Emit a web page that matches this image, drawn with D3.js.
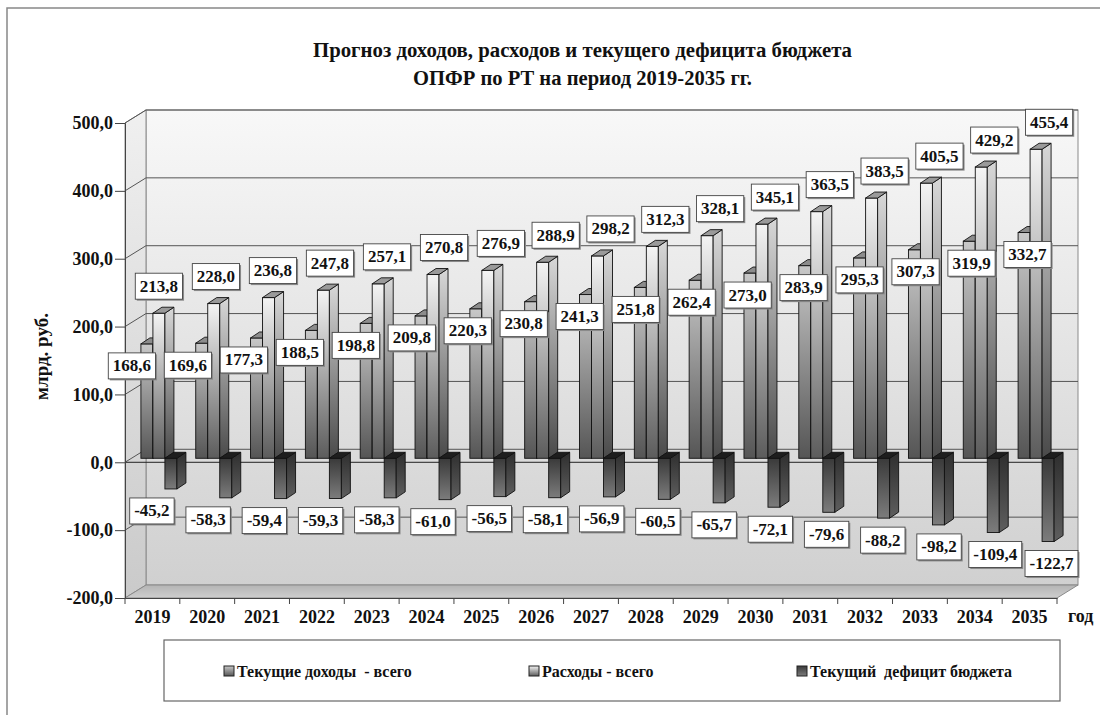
<!DOCTYPE html>
<html>
<head>
<meta charset="utf-8">
<script src="https://cdn.jsdelivr.net/npm/d3@7"></script>
<style>
  body { margin: 0; background: #fff; }
  svg text { font-family: "Liberation Serif", "Times New Roman", "DejaVu Serif", serif !important; font-weight: bold; fill: #111; }
</style>
</head>
<body>
<div id="chart"></div>
<script>
// **** THE DATA ****
const years = ["2019","2020","2021","2022","2023","2024","2025","2026","2027","2028","2029","2030","2031","2032","2033","2034","2035"]
const income = [168.6,169.6,177.3,188.5,198.8,209.8,220.3,230.8,241.3,251.8,262.4,273.0,283.9,295.3,307.3,319.9,332.7]
const expenses = [213.8,228.0,236.8,247.8,257.1,270.8,276.9,288.9,298.2,312.3,328.1,345.1,363.5,383.5,405.5,429.2,455.4]
const deficit = [-45.2,-58.3,-59.4,-59.3,-58.3,-61.0,-56.5,-58.1,-56.9,-60.5,-65.7,-72.1,-79.6,-88.2,-98.2,-109.4,-122.7]
const yTicks = [-200,-100,0,100,200,300,400,500]
const seriesNames = ["Текущие доходы  - всего", "Расходы - всего", "Текущий  дефицит бюджета"]
const titleLines = ["Прогноз доходов, расходов и текущего дефицита бюджета", "ОПФР по РТ на период 2019-2035 гг."]

// **** THE SETUP ****
const width = 1100, height = 715
const serif = "'Liberation Serif', 'Times New Roman', 'DejaVu Serif', serif"
const wall = {dx: 21, dy: -13}      // back wall offset from front plane
const plane = {dx: 6.5, dy: -4}     // where the bars stand
const depth = {dx: 9, dy: -6}       // thickness of a bar

const ru = d3.formatLocale({decimal: ",", thousands: " ", grouping: [3], currency: ["", ""], minus: "-"})
const fmt = ru.format(".1f")

const x = d3.scaleBand().domain(years).range([125, 1057])
const y = d3.scaleLinear().domain([-200, 500]).range([598, 123])
const barW = 12
const inner = d3.scaleBand().domain([0, 1, 2]).range([0, barW * 3])

const svg = d3.select("#chart").append("svg")
    .attr("width", width)
    .attr("height", height)
    .attr("font-family", serif)

const defs = svg.append("defs")
function grad(id, stops) {
  const g = defs.append("linearGradient").attr("id", id)
      .attr("x1", 0).attr("y1", 0).attr("x2", 0).attr("y2", 1)
  stops.forEach((c, i) => g.append("stop").attr("offset", i / (stops.length - 1)).attr("stop-color", c))
}
grad("wallG", ["#f8f8f8", "#d0d0d0"])
grad("sideG", ["#f0f0f0", "#cacaca"])
grad("floorG", ["#b4b4b4", "#cecece"])
grad("incF", ["#c8c8c8", "#555555"])
grad("incS", ["#aaaaaa", "#444444"])
grad("expF", ["#f4f4f4", "#5c5c5c"])
grad("expS", ["#d8d8d8", "#4a4a4a"])
grad("defF", ["#3a3a3a", "#7c7c7c"])
grad("defS", ["#2e2e2e", "#5e5e5e"])

// outer frame
svg.append("rect")
    .attr("x", 7).attr("y", 8).attr("width", 1200).attr("height", 800)
    .attr("fill", "none").attr("stroke", "#888").attr("stroke-width", 1.5)

// **** WALLS ****
const x0 = x.range()[0], x1 = x.range()[1]
const yTop = y(500), yBot = y(-200)

svg.append("rect")
    .attr("x", x0 + wall.dx).attr("y", yTop + wall.dy)
    .attr("width", x1 - x0).attr("height", yBot - yTop)
    .attr("fill", "url(#wallG)").attr("stroke", "#8a8a8a")

svg.append("path")
    .attr("d", `M${x0},${yTop} L${x0 + wall.dx},${yTop + wall.dy} L${x0 + wall.dx},${yBot + wall.dy} L${x0},${yBot} Z`)
    .attr("fill", "url(#sideG)").attr("stroke", "#8a8a8a")

svg.append("path")
    .attr("d", `M${x0},${yBot} L${x0 + wall.dx},${yBot + wall.dy} L${x1 + wall.dx},${yBot + wall.dy} L${x1},${yBot} Z`)
    .attr("fill", "url(#floorG)").attr("stroke", "#8a8a8a")

// gridlines on back and side walls
const grid = svg.append("g").attr("stroke", "#555").attr("fill", "none")
yTicks.filter(t => t > -200).forEach(t => {
  grid.append("path")
      .attr("d", `M${x0},${y(t)} L${x0 + wall.dx},${y(t) + wall.dy} L${x1 + wall.dx},${y(t) + wall.dy}`)
})

// zero line in the front plane
svg.append("line")
    .attr("x1", x0).attr("x2", x1)
    .attr("y1", y(0)).attr("y2", y(0))
    .attr("stroke", "#222")

// --> Y-AXIS
const yAxis = svg.append("g")
    .attr("transform", `translate(${x0},0)`)
    .call(d3.axisLeft(y).tickValues(yTicks).tickFormat(fmt).tickSize(10).tickPadding(2))
yAxis.attr("font-family", serif)
yAxis.select(".domain").attr("stroke", "#444")
yAxis.selectAll(".tick line").attr("stroke", "#444")
yAxis.selectAll("text").attr("font-size", 18).attr("fill", "#111").attr("font-weight", "bold")

// --> X-AXIS
const xAxis = svg.append("g")
    .attr("transform", `translate(0,${yBot})`)
    .call(d3.axisBottom(x).tickSize(0).tickPadding(12))
xAxis.attr("font-family", serif)
xAxis.select(".domain").attr("stroke", "#444")
xAxis.selectAll("text").attr("font-size", 18).attr("fill", "#111").attr("font-weight", "bold")
xAxis.selectAll(".sep")
    .data(years.map(d => x(d)).concat([x1]))
  .enter().append("line")
    .attr("x1", d => d).attr("x2", d => d)
    .attr("y1", 0).attr("y2", 6)
    .attr("stroke", "#444")

svg.append("text")
    .attr("x", 1068).attr("y", yBot + 24)
    .attr("font-size", 18)
    .text("год")

svg.append("text")
    .attr("transform", `translate(48,${(yTop + yBot) / 2 - 4}) rotate(-90)`)
    .attr("text-anchor", "middle")
    .attr("font-size", 19)
    .text("млрд. руб.")

// --> BARS
const y0 = y(0) + plane.dy
function bar(g, left, v, front, side, topFill) {
  const top = y(v) + plane.dy
  const a = Math.min(top, y0), b = Math.max(top, y0)
  g.append("rect")
      .attr("x", left).attr("y", a).attr("width", barW).attr("height", b - a)
      .attr("fill", front).attr("stroke", "#111").attr("stroke-width", 0.9)
  g.append("path")
      .attr("d", `M${left + barW},${a} L${left + barW + depth.dx},${a + depth.dy} L${left + barW + depth.dx},${b + depth.dy} L${left + barW},${b} Z`)
      .attr("fill", side).attr("stroke", "#111").attr("stroke-width", 0.9)
  // visible cap is always at the upper edge
  g.append("path")
      .attr("d", `M${left},${a} L${left + depth.dx},${a + depth.dy} L${left + barW + depth.dx},${a + depth.dy} L${left + barW},${a} Z`)
      .attr("fill", topFill).attr("stroke", "#111").attr("stroke-width", 0.9)
}

const bars = svg.append("g")
const series = [
  {values: income, front: "url(#incF)", side: "url(#incS)", top: "#8c8c8c"},
  {values: expenses, front: "url(#expF)", side: "url(#expS)", top: "#9a9a9a"},
  {values: deficit, front: "url(#defF)", side: "url(#defS)", top: "#1e1e1e"}
]
years.forEach((yr, i) => {
  const start = x(yr) + plane.dx + (x.bandwidth() - barW * 3) / 2
  series.forEach((s, k) => {
    bar(bars, start + inner(k), s.values[i], s.front, s.side, s.top)
  })
})

// --> DATA LABELS
const labels = svg.append("g")
function label(cx, cy, txt) {
  const g = labels.append("g")
  const t = g.append("text")
      .attr("x", cx).attr("y", cy)
      .attr("text-anchor", "middle").attr("dominant-baseline", "central")
      .attr("font-size", 17)
      .text(txt)
  const w = t.node().getComputedTextLength() + 9, h = 26
  g.insert("rect", "text")
      .attr("x", cx - w / 2 + 1.5).attr("y", cy - h / 2 + 1.5).attr("width", w).attr("height", h)
      .attr("fill", "#8a8a8a")
  g.insert("rect", "text")
      .attr("x", cx - w / 2).attr("y", cy - h / 2).attr("width", w).attr("height", h)
      .attr("fill", "#fff").attr("stroke", "#444").attr("stroke-width", 0.9)
}
years.forEach((yr, i) => {
  const c = x(yr) + x.bandwidth() / 2 + plane.dx
  label(c - 27 + i * 1.15, y(income[i]) + plane.dy + 22, fmt(income[i]))
  label(c + Math.min(i * 2.2, 13), y(expenses[i]) + plane.dy - 27, fmt(expenses[i]))
  label(c - 7 + i * 1.4, y(deficit[i]) + plane.dy + 22, fmt(deficit[i]))
})

// --> TITLE
svg.selectAll(".title")
    .data(titleLines)
  .enter().append("text")
    .attr("x", (d, i) => i === 0 ? 313 : 413)
    .attr("y", (d, i) => 57 + i * 28)
    .attr("font-size", 20)
    .attr("textLength", (d, i) => i === 0 ? 539 : 339)
    .attr("lengthAdjust", "spacingAndGlyphs")
    .text(d => d)

// --> LEGEND
const legend = svg.append("g")
legend.append("rect")
    .attr("x", 164).attr("y", 640).attr("width", 896).attr("height", 61)
    .attr("fill", "#fff").attr("stroke", "#666").attr("stroke-width", 1.2)
const legX = [224, 529, 797]
const legFill = ["url(#incF)", "url(#expF)", "url(#defF)"]
seriesNames.forEach((name, i) => {
  legend.append("rect")
      .attr("x", legX[i]).attr("y", 666).attr("width", 10).attr("height", 10)
      .attr("fill", legFill[i]).attr("stroke", "#222")
  legend.append("text")
      .attr("x", legX[i] + 13).attr("y", 677)
      .attr("font-size", 16)
      .attr("xml:space", "preserve")
      .style("white-space", "pre")
      .text(name)
})
</script>
</body>
</html>
